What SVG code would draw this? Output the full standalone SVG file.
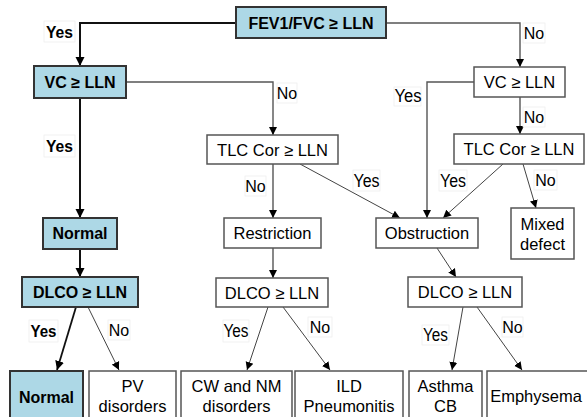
<svg xmlns="http://www.w3.org/2000/svg" width="587" height="417" viewBox="0 0 587 417">
<style>
text{font-family:"Liberation Sans",Arial,sans-serif;fill:#000;text-anchor:middle}
.t{font-size:16.5px}
.b{font-size:16px;font-weight:bold}
.blue rect{fill:#add8e6;stroke:#333;stroke-width:2}
.white rect{fill:#fff;stroke:#555;stroke-width:1.5}
.thick{stroke:#111;stroke-width:2;fill:none}
.thin{stroke:#555;stroke-width:1.4;fill:none}
.diag{stroke:#444;stroke-width:1;fill:none}
.lbl rect{fill:#fff;stroke:#eee;stroke-width:0.8}
.lbl text{font-size:16px}
.lbl .y{font-size:17.5px}
.lbl .yb{font-size:17px;font-weight:bold}
</style>
<defs>
<marker id="ah" viewBox="0 0 10 10" refX="10" refY="5" markerWidth="8" markerHeight="9" markerUnits="userSpaceOnUse" orient="auto">
<path d="M0,0 L10,5 L0,10 z" fill="#000"/>
</marker>
<marker id="ahb" viewBox="0 0 10 10" refX="10" refY="5" markerWidth="9" markerHeight="10" markerUnits="userSpaceOnUse" orient="auto">
<path d="M0,0 L10,5 L0,10 z" fill="#000"/>
</marker>
</defs>
<rect width="587" height="417" fill="#fff"/>

<g id="connectors">
<path class="thick" d="M236,23 H80 V66" marker-end="url(#ahb)"/>
<path class="thin" d="M386,23 H520 V67" marker-end="url(#ah)"/>
<path class="thin" d="M126,82 H273 V135" marker-end="url(#ah)"/>
<path class="thick" d="M80,98 V218" marker-end="url(#ahb)"/>
<path class="thick" d="M80,249 V277" marker-end="url(#ahb)"/>
<path class="thin" d="M474,82 H427 V218" marker-end="url(#ah)"/>
<path class="thin" d="M520,97 V134" marker-end="url(#ah)"/>
<path class="thin" d="M273,164 V218" marker-end="url(#ah)"/>
<path class="diag" d="M300,164 L400,218" marker-end="url(#ah)"/>
<path class="diag" d="M503,164 L443,218" marker-end="url(#ah)"/>
<path class="diag" d="M523,164 L536,208" marker-end="url(#ah)"/>
<path class="thin" d="M273,248 V278" marker-end="url(#ah)"/>
<path class="diag" d="M437,248 L456,277" marker-end="url(#ah)"/>
<path class="thick" style="stroke-width:1.8" d="M76,307 L57,370" marker-end="url(#ahb)"/>
<path class="diag" d="M88,307 L119,370" marker-end="url(#ah)"/>
<path class="diag" d="M268,307 L247,370" marker-end="url(#ah)"/>
<path class="diag" d="M283,307 L330,370" marker-end="url(#ah)"/>
<path class="diag" d="M463,307 L452,370" marker-end="url(#ah)"/>
<path class="diag" d="M477,307 L522,370" marker-end="url(#ah)"/>
</g>

<g id="labels" class="lbl">
<rect x="44" y="21" width="31" height="21"/><text class="yb" x="59.5" y="38" textLength="27" lengthAdjust="spacingAndGlyphs">Yes</text>
<rect x="523" y="23" width="22" height="20"/><text x="534" y="39">No</text>
<rect x="277" y="83" width="20" height="20"/><text x="287" y="99">No</text>
<rect x="394" y="87" width="27" height="19"/><text class="y" x="408" y="102" textLength="27" lengthAdjust="spacingAndGlyphs">Yes</text>
<rect x="523" y="107" width="22" height="20"/><text x="534" y="123">No</text>
<rect x="44" y="135" width="31" height="22"/><text class="yb" x="59.5" y="152" textLength="27" lengthAdjust="spacingAndGlyphs">Yes</text>
<rect x="245" y="176" width="21" height="20"/><text x="255.5" y="192">No</text>
<rect x="353" y="170" width="27" height="21"/><text class="y" x="366.5" y="187" textLength="26" lengthAdjust="spacingAndGlyphs">Yes</text>
<rect x="439" y="170" width="28" height="21"/><text class="y" x="453" y="187" textLength="26" lengthAdjust="spacingAndGlyphs">Yes</text>
<rect x="534" y="170" width="23" height="20"/><text x="545.5" y="186">No</text>
<rect x="29" y="320" width="29" height="22"/><text class="yb" x="43.5" y="337" textLength="26" lengthAdjust="spacingAndGlyphs">Yes</text>
<rect x="108" y="320" width="22" height="20"/><text x="119" y="336">No</text>
<rect x="223" y="320" width="26" height="22"/><text class="y" x="236" y="337" textLength="25" lengthAdjust="spacingAndGlyphs">Yes</text>
<rect x="308" y="317" width="24" height="20"/><text x="320" y="333">No</text>
<rect x="422" y="325" width="27" height="20"/><text class="y" x="435.5" y="341" textLength="25" lengthAdjust="spacingAndGlyphs">Yes</text>
<rect x="502" y="317" width="21" height="20"/><text x="512.5" y="333">No</text>
</g>

<g id="fev1" class="blue"><rect x="236" y="7" width="150" height="31"/><text class="b" x="311" y="29">FEV1/FVC ≥ LLN</text></g>
<g id="vc-left" class="blue"><rect x="34" y="66" width="92" height="32"/><text class="b" x="80" y="88">VC ≥ LLN</text></g>
<g id="vc-right" class="white"><rect x="474" y="67" width="91" height="30"/><text class="t" x="519.5" y="88">VC ≥ LLN</text></g>
<g id="tlc-left" class="white"><rect x="207" y="135" width="131" height="29"/><text class="t" x="272.5" y="156">TLC Cor ≥ LLN</text></g>
<g id="tlc-right" class="white"><rect x="454" y="134" width="130" height="30"/><text class="t" x="519" y="155">TLC Cor ≥ LLN</text></g>
<g id="normal1" class="blue"><rect x="43" y="218" width="74" height="31"/><text class="b" x="80" y="239">Normal</text></g>
<g id="restriction" class="white"><rect x="224" y="218" width="97" height="30"/><text class="t" x="272.5" y="239">Restriction</text></g>
<g id="obstruction" class="white"><rect x="376" y="218" width="102" height="30"/><text class="t" x="427" y="239">Obstruction</text></g>
<g id="mixed" class="white"><rect x="511" y="208" width="63" height="51"/><text class="t" x="542.5" y="230">Mixed</text><text class="t" x="542.5" y="250">defect</text></g>
<g id="dlco-left" class="blue"><rect x="22" y="277" width="116" height="30"/><text class="b" x="80" y="298">DLCO ≥ LLN</text></g>
<g id="dlco-mid" class="white"><rect x="216" y="278" width="112" height="29"/><text class="t" x="272" y="299">DLCO ≥ LLN</text></g>
<g id="dlco-right" class="white"><rect x="408" y="277" width="114" height="30"/><text class="t" x="465" y="298">DLCO ≥ LLN</text></g>
<g id="normal2" class="blue"><rect x="10" y="371" width="73" height="52"/><text class="b" x="46.5" y="403">Normal</text></g>
<g id="pv" class="white"><rect x="89" y="371" width="87" height="52"/><text class="t" x="132.5" y="392">PV</text><text class="t" x="132.5" y="412">disorders</text></g>
<g id="cw" class="white"><rect x="181" y="371" width="111" height="52"/><text class="t" x="236.5" y="392">CW and NM</text><text class="t" x="236.5" y="412">disorders</text></g>
<g id="ild" class="white"><rect x="295" y="371" width="108" height="52"/><text class="t" x="349" y="392">ILD</text><text class="t" x="349" y="412">Pneumonitis</text></g>
<g id="asthma" class="white"><rect x="409" y="371" width="73" height="52"/><text class="t" x="445.5" y="392">Asthma</text><text class="t" x="445.5" y="412">CB</text></g>
<g id="emphysema" class="white"><rect x="487" y="371" width="110" height="52"/><text class="t" x="536" y="402">Emphysema</text></g>
</svg>
